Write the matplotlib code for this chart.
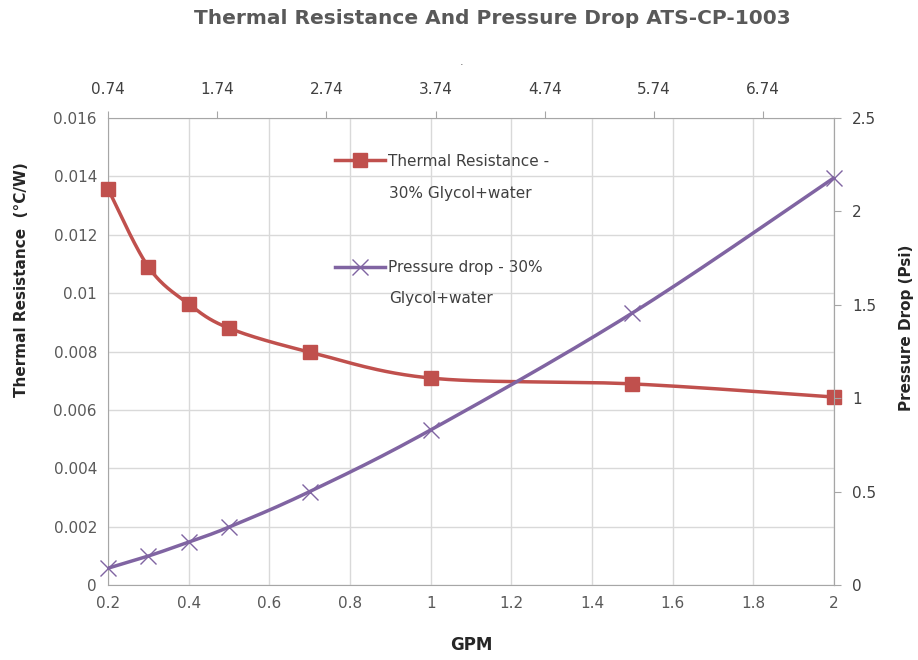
import numpy as np
import matplotlib
matplotlib.use("Agg")
import matplotlib.pyplot as plt
from matplotlib.lines import Line2D
from matplotlib.legend import Legend

plt.rcParams['font.family'] = ['DejaVu Sans']

# ---- data ----
gpm = [0.2, 0.3, 0.4, 0.5, 0.7, 1.0, 1.5, 2.0]
thermal_res = [0.01357, 0.0109, 0.00963, 0.0088, 0.00798, 0.00709, 0.00689, 0.00644]
pressure_drop = [0.09, 0.155, 0.23, 0.31, 0.50, 0.83, 1.456, 2.18]
bottom_ticks = [0.2, 0.4, 0.6, 0.8, 1, 1.2, 1.4, 1.6, 1.8, 2]
bottom_labels = ['0.2', '0.4', '0.6', '0.8', '1', '1.2', '1.4', '1.6', '1.8', '2']
left_ticks = [0, 0.002, 0.004, 0.006, 0.008, 0.01, 0.012, 0.014, 0.016]
left_labels = ['0', '0.002', '0.004', '0.006', '0.008', '0.01', '0.012', '0.014', '0.016']
right_ticks = [0, 0.5, 1, 1.5, 2, 2.5]
right_labels = ['0', '0.5', '1', '1.5', '2', '2.5']
top_ticks = [0.74, 1.74, 2.74, 3.74, 4.74, 5.74, 6.74]
top_labels = ['0.74', '1.74', '2.74', '3.74', '4.74', '5.74', '6.74']
series_names = [('Thermal Resistance -', '30% Glycol+water'),
                ('Pressure drop - 30%', 'Glycol+water')]

RED = '#C0504D'
PURPLE = '#8064A2'
GRAY = '#595959'
DARK = '#404040'
GRID = '#D9D9D9'
W, H = 918, 660


def smooth(xs, ys, n=30):
    """Excel-like smoothed line via cubic Bezier segments."""
    x = np.asarray(xs, float)
    y = np.asarray(ys, float)
    px, py = [], []
    m = len(x)
    for i in range(m - 1):
        x0, y0 = x[i], y[i]
        x3, y3 = x[i + 1], y[i + 1]
        xm, ym = (x[i - 1], y[i - 1]) if i > 0 else (x0, y0)
        xp, yp = (x[i + 2], y[i + 2]) if i + 2 < m else (x3, y3)
        x1, y1 = x0 + (x3 - xm) / 6, y0 + (y3 - ym) / 6
        x2, y2 = x3 - (xp - x0) / 6, y3 - (yp - y0) / 6
        t = np.linspace(0, 1, n)
        a, b, c, d = (1 - t) ** 3, 3 * (1 - t) ** 2 * t, 3 * (1 - t) * t ** 2, t ** 3
        px.extend(a * x0 + b * x1 + c * x2 + d * x3)
        py.extend(a * y0 + b * y1 + c * y2 + d * y3)
    return np.array(px), np.array(py)


fig = plt.figure(figsize=(W / 100, H / 100), dpi=100)
ax = fig.add_axes([108 / W, 1 - 585 / H, (834 - 108) / W, (585 - 118) / H])

ax.set_xlim(0.2, 2.0)
ax.set_ylim(0, 0.016)
ax.set_xticks(bottom_ticks)
ax.set_xticklabels(bottom_labels)
ax.set_yticks(left_ticks)
ax.set_yticklabels(left_labels)
ax.grid(True, color=GRID, linewidth=1.0)
ax.set_axisbelow(True)
ax.tick_params(axis='both', colors=GRAY, labelsize=11, length=0, pad=8)
ax.spines['top'].set_visible(False)
for s in ['left', 'bottom', 'right']:
    ax.spines[s].set_color('#A6A6A6')

sx, sy = smooth(gpm, thermal_res)
ax.plot(sx, sy, color=RED, linewidth=2.5, solid_capstyle='round', zorder=3)
ax.plot(gpm, thermal_res, linestyle='none', marker='s', markersize=10,
        color=RED, zorder=4, clip_on=False)

ax2 = ax.twinx()
ax2.set_ylim(0, 2.5)
ax2.set_yticks(right_ticks)
ax2.set_yticklabels(right_labels)
ax2.tick_params(axis='y', colors='#A6A6A6', labelcolor=DARK, labelsize=11,
                length=5, direction='out', pad=8)
for s in ['top', 'left', 'bottom']:
    ax2.spines[s].set_visible(False)
ax2.spines['right'].set_color('#A6A6A6')
px_, py_ = smooth(gpm, pressure_drop)
ax2.plot(px_, py_, color=PURPLE, linewidth=2.5, solid_capstyle='round', zorder=3)
ax2.plot(gpm, pressure_drop, linestyle='none', marker='x', markersize=11,
         markeredgewidth=1.0, color=PURPLE, zorder=4, clip_on=False)

ax3 = ax.twiny()
ax3.set_xlim(0.74, 0.74 + 726 / 109.2)
ax3.set_xticks(top_ticks)
ax3.set_xticklabels(top_labels)
ax3.tick_params(axis='x', colors='#A6A6A6', labelcolor=DARK, labelsize=11,
                length=5, direction='out', pad=10)
for s in ['left', 'bottom', 'right']:
    ax3.spines[s].set_visible(False)
ax3.spines['top'].set_color('#A6A6A6')

# axis titles
fig.text(471 / W, 1 - 645 / H, 'GPM', ha='center', va='center', fontsize=12,
         fontweight='bold', color='#262626')
fig.text(22 / W, 1 - 280 / H, 'Thermal Resistance  (°C/W)', rotation=90,
         ha='center', va='center', fontsize=11, fontweight='bold', color='#262626')
fig.text(907 / W, 1 - 328 / H, 'Pressure Drop (Psi)', rotation=90,
         ha='center', va='center', fontsize=11, fontweight='bold', color='#262626')

# legend: handle aligned with the first text line, second line below
fs = 11
handles = [
    Line2D([], [], color=RED, linewidth=2.5, marker='s', markersize=10),
    Line2D([], [], color=PURPLE, linewidth=2.5, marker='x', markersize=11,
           markeredgewidth=1.0),
]
first_y = [161, 268]
second_y = [193, 299]
hl = 50 / (fs * 100 / 72)
for h, (l1, l2), y1, y2 in zip(handles, series_names, first_y, second_y):
    lg = Legend(fig, [h], [l1], loc='center left',
                bbox_to_anchor=(335 / W, 1 - y1 / H),
                bbox_transform=fig.transFigure, frameon=False,
                fontsize=fs, handlelength=hl, handletextpad=0.2,
                borderpad=0, borderaxespad=0)
    for t in lg.get_texts():
        t.set_color(DARK)
    fig.add_artist(lg)
    fig.text(389 / W, 1 - y2 / H, l2, ha='left', va='center', fontsize=fs,
             color=DARK)

fig.text(492 / W, 1 - 19 / H, 'Thermal Resistance And Pressure Drop ATS-CP-1003',
         ha='center', va='center', fontsize=14.5, fontweight='bold', color=GRAY)
fig.text(462 / W, 1 - 62 / H, '.', ha='center', va='center', fontsize=8,
         color=GRAY)

fig.savefig('out.png', dpi=100)
